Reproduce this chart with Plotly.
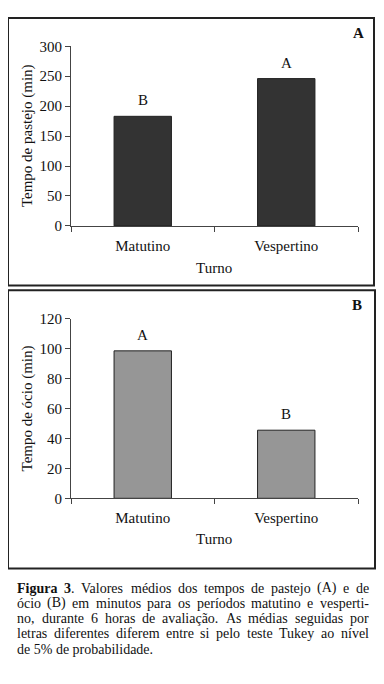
import plotly.graph_objects as go

# ---- data ----
categories = ["Matutino", "Vespertino"]
pastejo = [183, 246]
pastejo_letters = ["B", "A"]
ocio = [98.5, 45.5]
ocio_letters = ["A", "B"]
yticks_a = [0, 50, 100, 150, 200, 250, 300]
yticks_b = [0, 20, 40, 60, 80, 100, 120]
caption_lines = [
    "<b>Figura</b> <b>3</b>. Valores médios dos tempos de pastejo (A) e de",
    "ócio (B) em minutos para os períodos matutino e vesperti-",
    "no, durante 6 horas de avaliação. As médias seguidas por",
    "letras diferentes diferem entre si pelo teste Tukey ao nível",
    "de 5% de probabilidade.",
]

# page body has an 8px margin; figure is sized to fit the 384x684 window
OFF = 8
W, H = 384 - OFF, 684 - OFF
FONT = "Liberation Serif, Times New Roman, serif"


def px_x(x):
    return (x - OFF) / W


def px_y(y):
    return 1 - (y - OFF) / H


# Times/Liberation Serif advance widths (1/1000 em) for caption justification
TW = {" ": 250, "(": 333, ")": 333, "%": 833, ".": 250, ",": 250, "-": 333,
      "A": 722, "B": 667, "F": 556, "T": 611, "V": 722,
      "a": 444, "b": 500, "c": 444, "d": 500, "e": 444, "f": 333, "g": 500,
      "h": 500, "i": 278, "j": 278, "k": 500, "l": 278, "m": 778, "n": 500,
      "o": 500, "p": 500, "q": 500, "r": 333, "s": 389, "t": 278, "u": 500,
      "v": 500, "w": 722, "x": 500, "y": 500, "z": 444,
      "é": 444, "í": 278, "ó": 500, "ç": 444, "ã": 444}
TWB = {"F": 611, "i": 278, "g": 500, "u": 556, "r": 444, "a": 500}


def word_width(word, size):
    w = 0
    bold = False
    i = 0
    while i < len(word):
        if word.startswith("<b>", i):
            bold = True
            i += 3
            continue
        if word.startswith("</b>", i):
            bold = False
            i += 4
            continue
        ch = word[i]
        if bold:
            w += TWB.get(ch, 500)
        else:
            w += TW.get(ch, 500)
        i += 1
    return w * size / 1000.0


fig = go.Figure()

fig.add_trace(go.Bar(
    x=categories, y=pastejo, xaxis="x", yaxis="y",
    marker=dict(color="#333333", line=dict(color="#222222", width=1)),
    width=0.4, showlegend=False, hoverinfo="skip",
))
fig.add_trace(go.Bar(
    x=categories, y=ocio, xaxis="x2", yaxis="y2",
    marker=dict(color="#969696", line=dict(color="#222222", width=1)),
    width=0.4, showlegend=False, hoverinfo="skip",
))

axis_common = dict(
    showgrid=False, zeroline=False, showline=True, linecolor="#444444", linewidth=1,
    ticks="outside", ticklen=5, tickcolor="#444444",
    tickfont=dict(family=FONT, size=15, color="#111111"),
    fixedrange=True,
)

fig.update_layout(
    width=W, height=H,
    margin=dict(l=0, r=0, t=0, b=0),
    paper_bgcolor="white", plot_bgcolor="white",
    font=dict(family=FONT, color="#111111"),
    xaxis=dict(domain=[px_x(71), px_x(358)], anchor="y", tickson="boundaries",
               ticklabelstandoff=6, **axis_common),
    yaxis=dict(domain=[px_y(223), px_y(39)], anchor="x", range=[0, 300],
               tickvals=yticks_a, **axis_common),
    xaxis2=dict(domain=[px_x(71), px_x(358)], anchor="y2", tickson="boundaries",
                ticklabelstandoff=6, **axis_common),
    yaxis2=dict(domain=[px_y(502), px_y(318)], anchor="x2", range=[0, 120],
                tickvals=yticks_b, **axis_common),
)

shapes = [
    dict(type="rect", xref="paper", yref="paper",
         x0=px_x(8), x1=px_x(374), y0=px_y(284), y1=px_y(10),
         line=dict(color="#222222", width=2)),
    dict(type="rect", xref="paper", yref="paper",
         x0=px_x(8), x1=px_x(375), y0=px_y(574), y1=px_y(289),
         line=dict(color="#222222", width=2)),
]
fig.update_layout(shapes=shapes)

ann = []
# significance letters
for c, v, t in zip(categories, pastejo, pastejo_letters):
    ann.append(dict(x=c, y=v, xref="x", yref="y", text=t, showarrow=False,
                    yanchor="bottom", yshift=6, font=dict(family=FONT, size=15)))
for c, v, t in zip(categories, ocio, ocio_letters):
    ann.append(dict(x=c, y=v, xref="x2", yref="y2", text=t, showarrow=False,
                    yanchor="bottom", yshift=6, font=dict(family=FONT, size=15)))
# axis titles
ann.append(dict(x=px_x(27), y=px_y(131), xref="paper", yref="paper",
                text="Tempo de pastejo (min)", textangle=-90, showarrow=False,
                xanchor="center", yanchor="middle", font=dict(family=FONT, size=15)))
ann.append(dict(x=px_x(27), y=px_y(410), xref="paper", yref="paper",
                text="Tempo de ócio (min)", textangle=-90, showarrow=False,
                xanchor="center", yanchor="middle", font=dict(family=FONT, size=15)))
ann.append(dict(x=px_x(214), y=px_y(266), xref="paper", yref="paper", text="Turno",
                showarrow=False, xanchor="center", yanchor="middle",
                font=dict(family=FONT, size=15)))
ann.append(dict(x=px_x(214), y=px_y(544), xref="paper", yref="paper", text="Turno",
                showarrow=False, xanchor="center", yanchor="middle",
                font=dict(family=FONT, size=15)))
# panel letters
ann.append(dict(x=px_x(358), y=px_y(25), xref="paper", yref="paper", text="<b>A</b>",
                showarrow=False, xanchor="center", yanchor="middle",
                font=dict(family=FONT, size=15)))
ann.append(dict(x=px_x(357), y=px_y(304), xref="paper", yref="paper", text="<b>B</b>",
                showarrow=False, xanchor="center", yanchor="middle",
                font=dict(family=FONT, size=15)))

# caption (justified lines, last line left-aligned)
CAP_SIZE = 14
CAP_LEFT, CAP_RIGHT = 17, 369
caption_y = [594, 609.6, 625.2, 640.8, 656.4]
for li, (line, yy) in enumerate(zip(caption_lines, caption_y)):
    font = dict(family=FONT, size=CAP_SIZE, color="#111111")
    base = dict(xref="paper", yref="paper", showarrow=False, yanchor="middle",
                borderpad=0, borderwidth=0, font=font)
    if li == len(caption_lines) - 1:
        ann.append(dict(x=px_x(CAP_LEFT), y=px_y(yy), text=line, xanchor="left", **base))
        continue
    words = line.split(" ")
    widths = [word_width(w, CAP_SIZE) for w in words]
    gap = (CAP_RIGHT - CAP_LEFT - sum(widths)) / (len(words) - 1)
    xpos = CAP_LEFT
    for wi, (w, ww) in enumerate(zip(words, widths)):
        if wi == len(words) - 1:
            ann.append(dict(x=px_x(CAP_RIGHT), y=px_y(yy), text=w, xanchor="right", **base))
        else:
            ann.append(dict(x=px_x(xpos), y=px_y(yy), text=w, xanchor="left", **base))
        xpos += ww + gap
fig.update_layout(annotations=ann)

fig.write_html("out.html", config=dict(displayModeBar=False))
